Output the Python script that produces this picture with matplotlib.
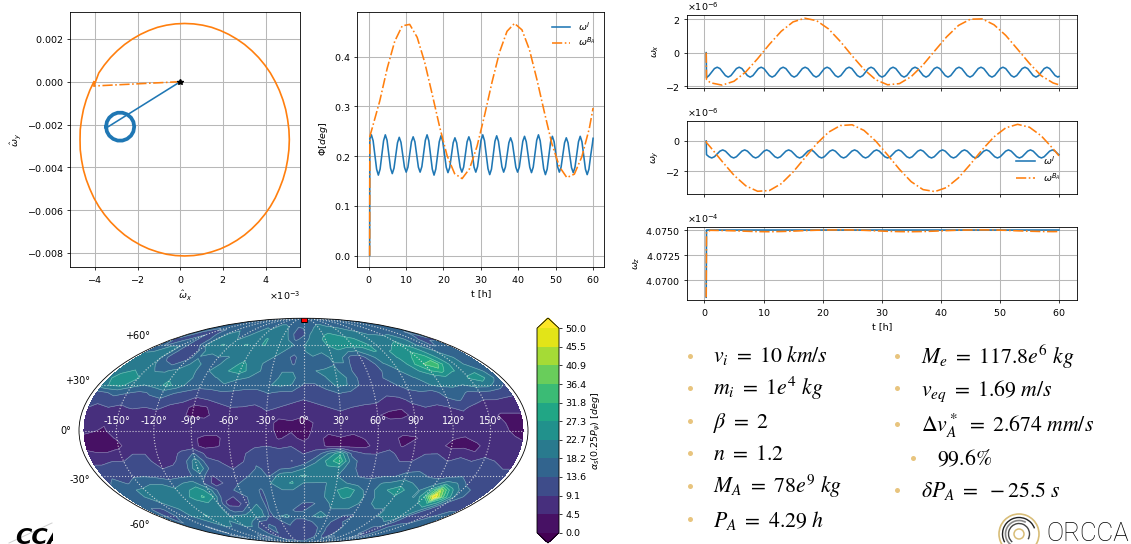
"""
Rebuild of the results slide: attitude plots, sky map and the parameter list.
Everything is placed in pixel coordinates of the 1131x544 slide.
"""

import numpy as np
import matplotlib
matplotlib.use("Agg")
import matplotlib.pyplot as plt
from matplotlib.lines import Line2D
from matplotlib.patches import Arc, Circle
from matplotlib.ticker import MultipleLocator
from matplotlib.transforms import Bbox

W, H = 1131, 544
BLUE = "#1f77b4"
ORANGE = "#ff7f0e"
GOLD = "#e8c47e"

# body-frame wobble, panel 1 (x in 1e-3)
blue_hat_x = [0.0, -3.375]
blue_hat_y = [0.0, -0.0021]
ring_x = [-3.48, -3.44, -3.33, -3.15, -2.94, -2.71, -2.49, -2.31, -2.20, -2.16, -2.20, -2.31, -2.49, -2.71, -2.94,
          -3.15, -3.33, -3.44, -3.48]
ring_y = [-0.0021, -0.00187, -0.00168, -0.00153, -0.00145, -0.00145, -0.00153, -0.00168, -0.00187, -0.0021,
          -0.00233, -0.00252, -0.00267, -0.00275, -0.00275, -0.00267, -0.00252, -0.00233, -0.0021]
spoke_x = [0.0, -4.05]
spoke_y = [0.0, -0.0002]
loop_x = [-4.05, -3.82, -3.56, -3.27, -2.95, -2.61, -2.25, -1.87, -1.48, -1.07, -0.65, -0.23, 0.2, 0.63, 1.05, 1.47,
          1.88, 2.27, 2.65, 3.01, 3.35, 3.67, 3.96, 4.22, 4.45, 4.64, 4.81, 4.94, 5.03, 5.09, 5.11, 5.09, 5.03, 4.94,
          4.81, 4.64, 4.45, 4.22, 3.96, 3.67, 3.35, 3.01, 2.65, 2.27, 1.88, 1.47, 1.05, 0.63, 0.2, -0.23, -0.65,
          -1.07, -1.48, -1.87, -2.25, -2.61, -2.95, -3.27, -3.56, -3.82, -4.05, -4.24, -4.41, -4.54, -4.63, -4.69,
          -4.70, -4.69, -4.63, -4.54, -4.41, -4.24, -4.05]
loop_y = [-0.0002, 0.00041, 0.00078, 0.00113, 0.00145, 0.00174, 0.00199, 0.00221, 0.00239, 0.00254, 0.00264, 0.0027,
          0.00272, 0.0027, 0.00264, 0.00254, 0.00239, 0.00221, 0.00199, 0.00174, 0.00145, 0.00113, 0.00078, 0.00041,
          0.0, -0.0004, -0.00085, -0.0013, -0.00177, -0.00224, -0.00271, -0.00318, -0.00365, -0.00412, -0.00457,
          -0.00501, -0.00543, -0.00583, -0.0062, -0.00655, -0.00687, -0.00716, -0.00741, -0.00763, -0.00781, -0.00795,
          -0.00806, -0.00812, -0.00814, -0.00812, -0.00806, -0.00795, -0.00781, -0.00763, -0.00741, -0.00716, -0.00687,
          -0.00655, -0.0062, -0.00583, -0.00543, -0.00501, -0.00457, -0.00412, -0.00365, -0.00318, -0.00271, -0.00224,
          -0.00177, -0.0013, -0.00085, -0.0004, 0.0]

# time bases [h]
t_blue = [0.3, 0.35, 0.765, 1.23, 1.695, 2.16, 2.625, 3.09, 3.555, 4.02,
          4.485, 4.95, 5.415, 5.88, 6.345, 6.81, 7.275, 7.74,
          8.205, 8.67, 9.135, 9.6, 10.065, 10.53, 10.995, 11.46,
          11.925, 12.39, 12.855, 13.32, 13.785, 14.25, 14.715, 15.18,
          15.645, 16.11, 16.575, 17.04, 17.505, 17.97, 18.435, 18.9,
          19.365, 19.83, 20.295, 20.76, 21.225, 21.69, 22.155, 22.62,
          23.085, 23.55, 24.015, 24.48, 24.945, 25.41, 25.875, 26.34,
          26.805, 27.27, 27.735, 28.2, 28.665, 29.13, 29.595, 30.06,
          30.525, 30.99, 31.455, 31.92, 32.385, 32.85, 33.315, 33.78,
          34.245, 34.71, 35.175, 35.64, 36.105, 36.57, 37.035, 37.5,
          37.965, 38.43, 38.895, 39.36, 39.825, 40.29, 40.755, 41.22,
          41.685, 42.15, 42.615, 43.08, 43.545, 44.01, 44.475, 44.94,
          45.405, 45.87, 46.335, 46.8, 47.265, 47.73, 48.195, 48.66,
          49.125, 49.59, 50.055, 50.52, 50.985, 51.45, 51.915, 52.38,
          52.845, 53.31, 53.775, 54.24, 54.705, 55.17, 55.635, 56.1,
          56.565, 57.03, 57.495, 57.96, 58.425, 58.89, 59.355, 59.82, 60.0]
t_orange = [0.3, 0.35, 1, 3, 5, 7, 9, 11, 13, 15, 17, 19, 21, 23, 25, 27, 29, 31, 33, 35, 37, 39, 41, 43, 45, 47, 49,
            51, 53, 55, 57, 59, 60]

phi_blue = [0.0, 0.235,
            .243, .231, .203, .174, .162, .174, .203, .231,
            .243, .232, .204, .176, .165, .176, .202, .227,
            .238, .228, .203, .178, .168, .178, .203, .229,
            .239, .229, .203, .178, .168, .179, .205, .232,
            .243, .231, .203, .174, .162, .174, .202, .229,
            .241, .230, .204, .178, .167, .177, .202, .227,
            .237, .227, .202, .178, .168, .178, .203, .229,
            .239, .229, .203, .178, .168, .179, .205, .232,
            .243, .231, .203, .175, .163, .174, .202, .230,
            .241, .230, .204, .179, .168, .178, .202, .227,
            .237, .227, .202, .178, .168, .178, .204, .230,
            .240, .229, .203, .178, .167, .178, .205, .232,
            .243, .231, .203, .175, .163, .174, .201, .229,
            .240, .229, .204, .179, .168, .178, .202, .227,
            .237, .227, .202, .177, .167, .178, .203, .229,
            .240, .229, .201, .174, .163, .174, .201, .225, .236]
phi_orange = [0.0, 0.24, .257, .311, .377, .431, .462, .465, .439, .389, .325, .259, .201, .165, .155, .175, .220,
              .282, .349, .409, .451, .467, .454, .414, .354, .288, .225, .179, .157, .164, .199, .256, .297]

# rates in units of 1e-6 rad/s
wx_blue = [0.0, -1.5,
           -1.37, -1.16, -.95, -.87, -.95, -1.16, -1.37, -1.46, -1.37, -1.16, -.95, -.87, -.95, -1.16, -1.37, -1.46,
           -1.37, -1.16, -.95, -.87, -.95, -1.16, -1.37, -1.46, -1.37, -1.16, -.95, -.87, -.95, -1.16, -1.37, -1.46,
           -1.37, -1.16, -.95, -.87, -.95, -1.16, -1.37, -1.46, -1.37, -1.16, -.95, -.87, -.95, -1.16, -1.37, -1.46,
           -1.37, -1.16, -.95, -.87, -.95, -1.16, -1.37, -1.46, -1.37, -1.16, -.95, -.87, -.95, -1.16, -1.37, -1.46,
           -1.37, -1.16, -.95, -.87, -.95, -1.16, -1.37, -1.46, -1.37, -1.16, -.95, -.87, -.95, -1.16, -1.37, -1.46,
           -1.37, -1.16, -.95, -.87, -.95, -1.16, -1.37, -1.46, -1.37, -1.16, -.95, -.87, -.95, -1.16, -1.37, -1.46,
           -1.37, -1.16, -.95, -.87, -.95, -1.16, -1.37, -1.46, -1.37, -1.16, -.95, -.87, -.95, -1.16, -1.37, -1.46,
           -1.37, -1.16, -.95, -.87, -.95, -1.16, -1.37, -1.46, -1.37, -1.16, -.95, -.87, -.95, -1.16, -1.37, -1.46,
           -1.42]
wx_orange = [0.0, -1.6, -1.80, -1.94, -1.71, -1.15, -.36, .50, 1.28, 1.84, 2.06, 1.91, 1.42, .67, -.19, -1.0, -1.62,
             -1.92, -1.85, -1.43, -.73, .12, .95, 1.63, 2.0, 2.02, 1.67, 1.03, .2, -.64, -1.38, -1.81, -1.92]
wy_blue = [0.0, -.9,
           -1.04, -1.12, -1.04, -.855, -.67, -.59, -.67, -.855, -1.04, -1.12, -1.04, -.855, -.67, -.59, -.67, -.855,
           -1.04, -1.12, -1.04, -.855, -.67, -.59, -.67, -.855, -1.04, -1.12, -1.04, -.855, -.67, -.59, -.67, -.855,
           -1.04, -1.12, -1.04, -.855, -.67, -.59, -.67, -.855, -1.04, -1.12, -1.04, -.855, -.67, -.59, -.67, -.855,
           -1.04, -1.12, -1.04, -.855, -.67, -.59, -.67, -.855, -1.04, -1.12, -1.04, -.855, -.67, -.59, -.67, -.855,
           -1.04, -1.12, -1.04, -.855, -.67, -.59, -.67, -.855, -1.04, -1.12, -1.04, -.855, -.67, -.59, -.67, -.855,
           -1.04, -1.12, -1.04, -.855, -.67, -.59, -.67, -.855, -1.04, -1.12, -1.04, -.855, -.67, -.59, -.67, -.855,
           -1.04, -1.12, -1.04, -.855, -.67, -.59, -.67, -.855, -1.04, -1.12, -1.04, -.855, -.67, -.59, -.67, -.855,
           -1.04, -1.12, -1.04, -.855, -.67, -.59, -.67, -.855, -1.04, -1.12, -1.04, -.855, -.67, -.59, -.67, -.855,
           -.90]
wy_orange = [0.0, -.11, -.40, -1.35, -2.26, -2.96, -3.32, -3.27, -2.82, -2.05, -1.11, -.18, .58, 1.02, 1.07, .70,
             -.01, -.92, -1.87, -2.69, -3.21, -3.34, -3.07, -2.43, -1.54, -.58, .27, .87, 1.10, .91, .34, -.51, -.98]
# rates in units of 1e-4 rad/s
t_wz_blue = [0.3, 0.35, 60]
wz_blue = [4.0683, 4.0750, 4.0750]
wz_orange = [4.0683, 4.0748, 4.07497, 4.07495, 4.07492, 4.07488, 4.07484, 4.07483, 4.07485, 4.07489, 4.07494, 4.07498,
             4.07500, 4.07501, 4.07500, 4.07497, 4.07492, 4.07487, 4.07484, 4.07483, 4.07485, 4.07489, 4.07494,
             4.07498, 4.07500, 4.07501, 4.07500, 4.07497, 4.07492, 4.07488, 4.07485, 4.07484, 4.07485]

# sky map
map_lon = [-176, -170, -160, -150, -140, -130, -120, -110, -100, -90, -80, -70, -60, -50, -40, -30, -20, -10, 0, 10,
           20, 30, 40, 50, 60, 70, 80, 90, 100, 110, 120, 130, 140, 150, 160, 170, 176]
map_lat = [90, 80, 70, 65, 60, 55, 50, 45, 40, 35, 30, 25, 20, 15, 10, 5, 0, -5, -10, -15, -20, -25, -30, -35, -40,
           -45, -50, -55, -60, -65, -70, -80, -90]
map_vals = [
    [16, 16, 16, 16, 16, 16, 16, 16, 16, 16, 16, 16, 16, 16, 16, 16, 16, 16, 16, 16, 16, 16, 16, 16, 16, 16, 16, 16, 16, 16, 16, 16, 16, 16, 16, 16, 16],
    [16, 16, 15, 15, 16, 17, 17, 16, 16, 15, 16, 17, 17, 18, 18, 17, 16, 15, 15, 16, 17, 18, 18, 17, 17, 16, 15, 15, 16, 17, 17, 16, 15, 16, 16, 16, 16],
    [16, 13, 12, 13, 12, 16, 18, 19, 18, 16, 18, 20, 19, 21, 22, 21, 16, 11, 12, 18, 20, 22, 23, 22, 21, 21, 20, 19, 18, 18, 16, 18, 18, 16, 16, 13, 16],
    [13, 12, 13, 16, 11, 13, 18, 20, 21, 18, 19, 21, 21, 23, 21, 20, 18, 12, 16, 19, 21, 24, 25, 25, 24, 23, 21, 19, 19, 19, 22, 20, 18, 16, 13, 13, 13],
    [16, 13, 18, 18, 12, 12, 19, 21, 23, 22, 22, 23, 21, 23, 22, 21, 19, 18, 18, 19, 21, 23, 26, 26, 25, 24, 23, 20, 20, 23, 24, 21, 18, 16, 13, 16, 16],
    [18, 18, 19, 19, 12, 10, 13, 19, 20, 21, 19, 21, 20, 21, 20, 19, 18, 16, 18, 19, 19, 21, 22, 19, 18, 21, 23, 22, 23, 25, 27, 25, 20, 18, 16, 16, 16],
    [19, 20, 21, 18, 11, 10, 12, 18, 16, 18, 18, 19, 21, 19, 19, 18, 16, 12, 18, 18, 16, 19, 19, 12, 11, 16, 20, 21, 23, 26, 29, 28, 23, 19, 18, 16, 18],
    [20, 21, 21, 19, 16, 13, 16, 19, 18, 16, 19, 21, 24, 20, 18, 18, 18, 13, 18, 18, 16, 18, 18, 11, 10, 13, 18, 19, 21, 27, 32, 36, 25, 20, 18, 18, 18],
    [21, 22, 23, 21, 18, 18, 19, 19, 18, 18, 20, 23, 25, 21, 18, 16, 18, 18, 16, 18, 19, 19, 16, 12, 10, 12, 16, 18, 20, 23, 27, 29, 23, 22, 22, 18, 18],
    [22, 24, 26, 23, 20, 19, 22, 21, 18, 18, 18, 19, 19, 18, 16, 16, 19, 19, 16, 16, 18, 20, 18, 13, 12, 13, 16, 18, 18, 19, 20, 21, 20, 23, 25, 20, 16],
    [21, 23, 24, 20, 18, 20, 24, 21, 16, 16, 16, 18, 16, 16, 16, 18, 19, 18, 13, 13, 16, 19, 18, 13, 12, 12, 13, 16, 18, 18, 19, 19, 18, 20, 20, 16, 13],
    [12, 13, 15, 14, 13, 14, 16, 14, 13, 11, 12, 13, 13, 12, 12, 14, 13, 13, 11, 11, 12, 14, 13, 12, 11, 10, 11, 12, 13, 12, 15, 16, 13, 13, 12, 11, 10],
    [10, 11, 12, 11, 12, 13, 13, 11, 10, 8, 9, 10, 12, 10, 11, 12, 11, 10, 9, 10, 11, 12, 11, 11, 10, 8, 8, 10, 11, 11, 13, 14, 11, 9, 9, 8, 8],
    [9, 7, 9, 8, 10, 9, 10, 8, 7, 3, 4, 8, 9, 9, 8, 10, 9, 8, 7, 8, 9, 10, 9, 8, 8, 6, 5, 8, 9, 8, 9, 10, 8, 7, 6, 6, 6],
    [7, 6, 7, 6, 5, 6, 7, 5, 6, 3, 3, 7, 8, 7, 8, 8, 6, 6, 5, 7, 7, 8, 7, 6, 5, 3, 3, 6, 8, 7, 7, 8, 7, 6, 4, 4, 4],
    [7, 8, 5, 8, 7, 7, 6, 8, 8, 9, 7, 8, 9, 8, 9, 7, 3, 4, 3, 5, 6, 7, 7, 6, 7, 6, 7, 7, 7, 8, 9, 7, 8, 7, 5, 3, 2],
    [6, 5, 4, 7, 8, 8, 9, 8, 8, 9, 8, 7, 8, 8, 9, 7, 3, 4, 2, 6, 6, 8, 6, 7, 8, 8, 7, 7, 7, 9, 8, 7, 9, 8, 6, 3, 2],
    [3, 3, 3, 5, 7, 8, 8, 8, 8, 6, 3, 3, 8, 7, 8, 8, 4, 6, 3, 7, 3, 4, 3, 5, 6, 7, 3, 4, 7, 7, 5, 4, 7, 8, 8, 5, 4],
    [2, 2, 2, 3, 8, 7, 8, 9, 7, 6, 3, 4, 7, 6, 8, 9, 8, 9, 7, 8, 3, 2, 3, 3, 7, 8, 4, 7, 8, 6, 3, 3, 3, 8, 9, 7, 6],
    [6, 5, 5, 7, 9, 9, 8, 7, 10, 14, 8, 8, 9, 8, 12, 13, 11, 10, 9, 10, 18, 26, 12, 9, 9, 10, 8, 8, 9, 9, 7, 8, 5, 8, 9, 8, 7],
    [8, 8, 9, 9, 10, 10, 7, 8, 11, 21, 10, 9, 8, 9, 13, 12, 11, 9, 10, 17, 24, 31, 16, 11, 10, 12, 9, 9, 10, 11, 9, 10, 9, 10, 9, 8, 8],
    [10, 10, 10, 11, 12, 11, 9, 10, 12, 23, 13, 10, 9, 10, 14, 13, 13, 14, 18, 22, 22, 21, 15, 12, 11, 13, 11, 11, 12, 12, 11, 11, 10, 10, 10, 9, 9],
    [11, 12, 11, 13, 13, 12, 11, 12, 13, 16, 9, 10, 11, 13, 16, 13, 21, 22, 23, 22, 20, 18, 16, 13, 12, 13, 13, 16, 16, 13, 12, 12, 13, 11, 11, 10, 10],
    [13, 16, 13, 16, 18, 18, 16, 18, 20, 13, 7, 10, 13, 16, 16, 18, 22, 23, 18, 18, 18, 20, 18, 16, 16, 18, 19, 20, 18, 16, 16, 20, 18, 12, 12, 12, 12],
    [16, 18, 18, 19, 19, 19, 19, 22, 25, 21, 12, 12, 16, 16, 13, 18, 18, 18, 18, 16, 18, 22, 26, 22, 16, 19, 23, 26, 20, 18, 24, 40, 24, 16, 13, 13, 13],
    [16, 18, 18, 19, 20, 21, 20, 24, 28, 23, 11, 9, 12, 16, 13, 16, 18, 16, 16, 18, 18, 20, 24, 22, 18, 18, 20, 22, 19, 18, 27, 50, 30, 18, 13, 13, 13],
    [16, 16, 16, 18, 19, 21, 21, 21, 22, 18, 8, 7, 12, 18, 13, 16, 18, 16, 13, 13, 16, 19, 19, 19, 18, 18, 19, 19, 19, 20, 22, 26, 22, 13, 12, 12, 12],
    [16, 13, 13, 16, 18, 21, 22, 22, 20, 18, 11, 12, 18, 20, 13, 18, 16, 13, 13, 16, 18, 18, 18, 18, 16, 16, 18, 18, 19, 20, 21, 20, 13, 10, 11, 13, 13],
    [16, 13, 13, 16, 18, 20, 23, 21, 19, 18, 19, 20, 20, 19, 12, 18, 19, 16, 16, 18, 19, 18, 16, 13, 13, 16, 18, 18, 19, 21, 21, 13, 10, 11, 13, 16, 16],
    [16, 13, 16, 16, 16, 18, 20, 19, 18, 19, 20, 18, 13, 12, 11, 13, 16, 11, 11, 13, 16, 16, 13, 12, 16, 16, 16, 16, 16, 18, 16, 12, 12, 13, 16, 16, 16],
    [16, 16, 16, 13, 16, 18, 18, 18, 16, 18, 18, 13, 12, 16, 12, 11, 12, 10, 9, 11, 13, 16, 12, 11, 13, 18, 16, 16, 16, 13, 13, 13, 16, 16, 16, 16, 16],
    [15, 14, 13, 14, 15, 15, 14, 14, 13, 13, 14, 14, 13, 12, 12, 11, 11, 10, 10, 11, 13, 14, 14, 13, 14, 13, 14, 15, 15, 14, 14, 13, 14, 14, 14, 15, 15],
    [16, 16, 16, 16, 16, 16, 16, 16, 16, 16, 16, 16, 16, 16, 16, 16, 16, 16, 16, 16, 16, 16, 16, 16, 16, 16, 16, 16, 16, 16, 16, 16, 16, 16, 16, 16, 16],
]
map_levels = [0.0, 4.545, 9.091, 13.636, 18.182, 22.727, 27.273, 31.818, 36.364, 40.909, 45.455, 50.0]
lon_labels = ["-150°", "-120°", "-90°", "-60°", "-30°", "0°", "30°", "60°", "90°", "120°", "150°"]
lat_labels = ["-60°", "-30°", "0°", "+30°", "+60°"]

# parameter list
left_items = [r"$v_i\ =\ 10\ km/s$", r"$m_i\ =\ 1e^4\ kg$", r"$\beta\ =\ 2$", r"$n\ =\ 1.2$",
              r"$M_A\ =\ 78e^9\ kg$", r"$P_A\ =\ 4.29\ h$"]
right_items = [r"$M_e\ =\ 117.8e^6\ kg$", r"$v_{eq}\ =\ 1.69\ m/s$", r"$\Delta v_A^*\ =\ 2.674\ mm/s$", r"$99.6\%$",
               r"$\delta P_A\ =\ -25.5\ s$"]

plt.rcParams.update({
    "font.size": 6.8,
    "axes.linewidth": 0.6,
    "axes.formatter.use_mathtext": True,
    "xtick.major.size": 2.4,
    "ytick.major.size": 2.4,
    "xtick.major.width": 0.55,
    "ytick.major.width": 0.55,
    "xtick.major.pad": 2.4,
    "ytick.major.pad": 2.4,
    "axes.labelpad": 2.7,
    "lines.linewidth": 1.15,
    "grid.color": "#b8b8b8",
    "grid.linewidth": 0.75,
})

fig = plt.figure(figsize=(W / 100, H / 100), dpi=100)


def place(x0, y0, x1, y1, **kwargs):
    return fig.add_axes([x0 / W, 1 - y1 / H, (x1 - x0) / W, (y1 - y0) / H], **kwargs)


def time_panel(ax, blue_t, blue, orange_t, orange, scale=1.0):
    ax.plot(blue_t, np.array(blue) * scale, color=BLUE, label=r"$\omega^{I}$")
    ax.plot(orange_t, np.array(orange) * scale, color=ORANGE, ls="-.", label=r"$\omega^{B_A}$")
    ax.set_xlim(-3, 63)
    ax.set_xticks([0, 10, 20, 30, 40, 50, 60])
    ax.grid(True)
    ax.set_axisbelow(True)


# wobble plane
ax1 = place(70, 11.7, 300, 267.3)
ax1.plot(np.array(blue_hat_x) * 1e-3, blue_hat_y, color=BLUE)
ax1.plot(np.array(ring_x) * 1e-3, ring_y, color=BLUE, lw=2.7)
ax1.plot(np.array(spoke_x) * 1e-3, spoke_y, color=ORANGE, ls="-.")
ax1.plot(np.array(loop_x) * 1e-3, loop_y, color=ORANGE, lw=1.2)
ax1.plot([0], [0], "*", color="k", ms=4)
ax1.set_xlim(-5.17e-3, 5.61e-3)
ax1.set_ylim(-0.00867, 0.00327)
ax1.set_xticks([-4e-3, -2e-3, 0, 2e-3, 4e-3])
ax1.set_yticks([-0.008, -0.006, -0.004, -0.002, 0, 0.002])
ax1.ticklabel_format(axis="x", style="sci", scilimits=(0, 0))
ax1.set_xlabel(r"$\hat{\omega}_x$")
ax1.set_ylabel(r"$\hat{\omega}_y$")
ax1.grid(True)
ax1.set_axisbelow(True)

# off-pointing angle
ax2 = place(357.3, 11.7, 604.3, 267.3)
time_panel(ax2, t_blue, phi_blue, t_orange, phi_orange)
ax2.set_ylim(-0.0233, 0.4905)
ax2.set_yticks([0.0, 0.1, 0.2, 0.3, 0.4])
ax2.set_xlabel("t [h]")
ax2.set_ylabel(r"$\Phi [deg]$")
ax2.legend(loc="upper right", frameon=False, fontsize=6.8, labelspacing=0.3)

# angular rates
ax3 = place(686.7, 14.7, 1076.7, 88.3)
time_panel(ax3, t_blue, wx_blue, t_orange, wx_orange, 1e-6)
ax3.set_ylim(-2.13e-6, 2.27e-6)
ax3.set_yticks([-2e-6, 0, 2e-6])
ax3.ticklabel_format(axis="y", style="sci", scilimits=(0, 0))
ax3.set_xticklabels([])
ax3.set_ylabel(r"$\omega_x$")

ax4 = place(686.7, 120.7, 1076.7, 194.3)
time_panel(ax4, t_blue, wy_blue, t_orange, wy_orange, 1e-6)
ax4.set_ylim(-3.52e-6, 1.34e-6)
ax4.set_yticks([-2e-6, 0])
ax4.ticklabel_format(axis="y", style="sci", scilimits=(0, 0))
ax4.set_xticklabels([])
ax4.set_ylabel(r"$\omega_y$")
ax4.legend(loc="lower right", frameon=False, fontsize=6.8, labelspacing=0.45, bbox_to_anchor=(0.98, 0.03))

ax5 = place(686.7, 227, 1076.7, 300.3)
time_panel(ax5, t_wz_blue, wz_blue, t_orange, wz_orange, 1e-4)
ax5.set_ylim(4.0680e-4, 4.0753e-4)
ax5.yaxis.set_major_locator(MultipleLocator(0.0025e-4))
ax5.ticklabel_format(axis="y", style="sci", scilimits=(0, 0), useOffset=False)
ax5.set_xlabel("t [h]")
ax5.set_ylabel(r"$\omega_z$")

# sky map
ax_map = place(79, 318, 528, 543, projection="mollweide")
lon_rad = np.radians(map_lon)
lat_rad = np.radians(map_lat)
cs = ax_map.contourf(lon_rad, lat_rad, map_vals, levels=map_levels, cmap="viridis", extend="both")
ax_map.contour(lon_rad, lat_rad, map_vals, levels=map_levels, colors="w", linewidths=0.45, alpha=0.4)
ax_map.set_longitude_grid(30)
ax_map.set_latitude_grid(30)
ax_map.set_longitude_grid_ends(89)
ax_map.set_xticklabels(lon_labels)
ax_map.set_yticklabels(lat_labels)
ax_map.tick_params(axis="x", labelcolor="white", labelsize=7)
ax_map.tick_params(axis="y", labelsize=7)
ax_map.grid(True, color="#e6e6e6", ls=":", lw=0.8, alpha=0.85)
ax_map.plot([0], [np.radians(89.0)], "s", color="red", mec="k", mew=0.6, ms=4.5)

cax = place(537, 318, 559, 543)
cb = fig.colorbar(cs, cax=cax, ticks=map_levels, format="%.1f")
cb.ax.tick_params(labelsize=6.8)
cb.set_label(r"$\alpha_s(0.25P_\psi)\ [deg]$", fontsize=6.8, labelpad=2)

# slide overlay in pixel coordinates
over = place(0, 0, W, H)
over.set_xlim(0, W)
over.set_ylim(H, 0)
over.axis("off")
over.patch.set_alpha(0)

for item, base in zip(left_items, [362, 395, 427.7, 460, 493, 526.7]):
    over.text(713, base, item, fontsize=15.7, math_fontfamily="stix", va="baseline")
for base in [355.7, 387.5, 420.5, 453, 486, 519]:
    over.plot([690], [base], "o", color=GOLD, ms=3.6, mew=0)

for item, base, x in zip(right_items, [364, 396, 431.7, 465.7, 497.3], [920.7, 920.7, 920.7, 937, 920.7]):
    over.text(x, base, item, fontsize=15.7, math_fontfamily="stix", va="baseline")
for base, x in zip([356, 388, 424, 458, 490], [897, 897, 897, 913, 897]):
    over.plot([x], [base], "o", color=GOLD, ms=3.6, mew=0)

# clipped CCA logo, bottom left
over.add_line(Line2D([9, 52], [543, 523], color="#cfcfcf", lw=0.7))
cca = over.text(15, 543.5, "CCA", fontsize=16, fontweight="bold", fontstyle="italic", va="baseline", color="k")
cca.set_clip_box(Bbox([[0, 0], [53, H]]))
cca.set_clip_on(True)

# ORCCA logo, bottom right
logo_c = (1019, 534)
over.add_patch(Arc(logo_c, 40, 40, theta1=0, theta2=360, color="#d8bd78", lw=1.2))
over.add_patch(Arc(logo_c, 33, 33, theta1=150, theta2=340, color="#222222", lw=1.0))
over.add_patch(Arc(logo_c, 27, 27, theta1=120, theta2=300, color="#888888", lw=1.2))
over.add_patch(Arc(logo_c, 21, 21, theta1=130, theta2=30, color="#444444", lw=1.0))
over.add_patch(Circle(logo_c, 5, fill=False, ec="#d8bd78", lw=1.1))
over.text(1046, 541, "ORCCA", fontsize=18.5, family="Roboto", fontweight="light", color="#000000", va="baseline")

fig.savefig("out.png", dpi=100)
